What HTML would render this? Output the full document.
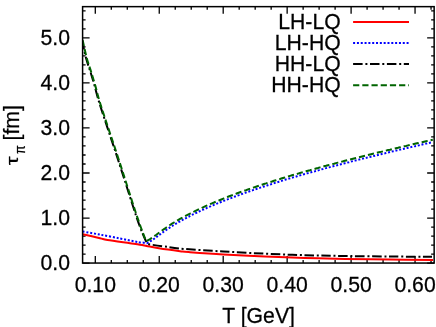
<!DOCTYPE html>
<html><head><meta charset="utf-8"><title>tau_pi vs T</title>
<style>html,body{margin:0;padding:0;background:#fff;}svg{display:block;will-change:transform;}text{font-family:"Liberation Sans",sans-serif;fill:#000;stroke:#000;stroke-width:0.25px;}</style></head><body>
<svg width="436" height="327" viewBox="0 0 436 327">
<rect x="0" y="0" width="436" height="327" fill="#fff"/>
<g fill="none" stroke-linecap="butt">
<path d="M353.1,21.9 H409.0" stroke="#ff0000" stroke-width="2"/>
<path d="M353.1,43.0 H409.0" stroke="#0000ff" stroke-width="2" stroke-dasharray="2 1.82"/>
<path d="M353.1,64.1 H409.0" stroke="#000" stroke-width="2" stroke-dasharray="9.5 2.8 2 2.6"/>
<path d="M353.1,85.3 H409.0" stroke="#006400" stroke-width="2" stroke-dasharray="6.2 3"/>
</g>
<text transform="translate(340.70,28.60) scale(1,1.01)" font-size="21.2" text-anchor="end">LH-LQ</text>
<text transform="translate(340.70,49.70) scale(1,1.01)" font-size="21.2" text-anchor="end">LH-HQ</text>
<text transform="translate(340.70,70.80) scale(1,1.01)" font-size="21.2" text-anchor="end">HH-LQ</text>
<text transform="translate(340.70,91.90) scale(1,1.01)" font-size="21.2" text-anchor="end">HH-HQ</text>
<g stroke="#000" fill="none" stroke-linecap="butt">
<path d="M95.30,263.05 v-7.00 M95.30,6.65 v7.00 M111.29,263.05 v-3.00 M111.29,6.65 v3.00 M127.28,263.05 v-3.00 M127.28,6.65 v3.00 M143.26,263.05 v-3.00 M143.26,6.65 v3.00 M159.25,263.05 v-7.00 M159.25,6.65 v7.00 M175.24,263.05 v-3.00 M175.24,6.65 v3.00 M191.23,263.05 v-3.00 M191.23,6.65 v3.00 M207.21,263.05 v-3.00 M207.21,6.65 v3.00 M223.20,263.05 v-7.00 M223.20,6.65 v7.00 M239.19,263.05 v-3.00 M239.19,6.65 v3.00 M255.18,263.05 v-3.00 M255.18,6.65 v3.00 M271.16,263.05 v-3.00 M271.16,6.65 v3.00 M287.15,263.05 v-7.00 M287.15,6.65 v7.00 M303.14,263.05 v-3.00 M303.14,6.65 v3.00 M319.12,263.05 v-3.00 M319.12,6.65 v3.00 M335.11,263.05 v-3.00 M335.11,6.65 v3.00 M351.10,263.05 v-7.00 M351.10,6.65 v7.00 M367.09,263.05 v-3.00 M367.09,6.65 v3.00 M383.08,263.05 v-3.00 M383.08,6.65 v3.00 M399.06,263.05 v-3.00 M399.06,6.65 v3.00 M415.05,263.05 v-7.00 M415.05,6.65 v7.00 M431.04,263.05 v-3.00 M431.04,6.65 v3.00 M82.60,263.10 h7.00 M434.15,263.10 h-7.00 M82.60,254.09 h3.00 M434.15,254.09 h-3.00 M82.60,245.08 h3.00 M434.15,245.08 h-3.00 M82.60,236.07 h3.00 M434.15,236.07 h-3.00 M82.60,227.06 h3.00 M434.15,227.06 h-3.00 M82.60,218.05 h7.00 M434.15,218.05 h-7.00 M82.60,209.04 h3.00 M434.15,209.04 h-3.00 M82.60,200.03 h3.00 M434.15,200.03 h-3.00 M82.60,191.02 h3.00 M434.15,191.02 h-3.00 M82.60,182.01 h3.00 M434.15,182.01 h-3.00 M82.60,173.00 h7.00 M434.15,173.00 h-7.00 M82.60,163.99 h3.00 M434.15,163.99 h-3.00 M82.60,154.98 h3.00 M434.15,154.98 h-3.00 M82.60,145.97 h3.00 M434.15,145.97 h-3.00 M82.60,136.96 h3.00 M434.15,136.96 h-3.00 M82.60,127.95 h7.00 M434.15,127.95 h-7.00 M82.60,118.94 h3.00 M434.15,118.94 h-3.00 M82.60,109.93 h3.00 M434.15,109.93 h-3.00 M82.60,100.92 h3.00 M434.15,100.92 h-3.00 M82.60,91.91 h3.00 M434.15,91.91 h-3.00 M82.60,82.90 h7.00 M434.15,82.90 h-7.00 M82.60,73.89 h3.00 M434.15,73.89 h-3.00 M82.60,64.88 h3.00 M434.15,64.88 h-3.00 M82.60,55.87 h3.00 M434.15,55.87 h-3.00 M82.60,46.86 h3.00 M434.15,46.86 h-3.00 M82.60,37.85 h7.00 M434.15,37.85 h-7.00 M82.60,28.84 h3.00 M434.15,28.84 h-3.00 M82.60,19.83 h3.00 M434.15,19.83 h-3.00 M82.60,10.82 h3.00 M434.15,10.82 h-3.00" stroke-width="1.3"/>
</g>
<clipPath id="pc"><rect x="82.60" y="6.65" width="351.55" height="256.40"/></clipPath>
<g fill="none" stroke-linejoin="miter" stroke-linecap="butt" stroke-width="2" clip-path="url(#pc)">
<path d="M82.70,234.20 C85.58,234.87 95.87,237.25 100.00,238.20 C104.13,239.15 102.50,239.07 107.50,239.90 C112.50,240.73 124.58,242.40 130.00,243.20 C135.42,244.00 137.25,244.25 140.00,244.70 C142.75,245.15 143.35,245.30 146.50,245.90 C149.65,246.50 153.32,247.42 158.90,248.30 C164.48,249.18 174.82,250.55 180.00,251.20 C185.18,251.85 182.75,251.65 190.00,252.20 C197.25,252.75 211.00,253.78 223.50,254.50 C236.00,255.22 251.42,255.93 265.00,256.50 C278.58,257.07 291.67,257.50 305.00,257.90 C318.33,258.30 330.83,258.63 345.00,258.90 C359.17,259.17 375.33,259.33 390.00,259.50 C404.67,259.67 425.83,259.83 433.00,259.90" stroke="#ff0000"/>
<path d="M82.70,231.50 C85.58,232.02 93.78,233.43 100.00,234.60 C106.22,235.77 114.17,237.35 120.00,238.50 C125.83,239.65 131.67,240.85 135.00,241.50 C138.33,242.15 137.90,242.17 140.00,242.40 C142.10,242.63 146.33,242.80 147.60,242.87 L147.6,242.9 L149.0,242.2 L151.0,240.9 L153.0,239.6 L155.0,238.1 L157.0,236.6 L159.0,235.1 L161.0,233.7 L163.0,232.2 L165.0,230.8 L167.0,229.4 L169.0,228.1 L171.0,226.8 L173.0,225.5 L175.0,224.3 L177.0,223.1 L179.0,221.9 L181.0,220.8 L183.0,219.7 L185.0,218.6 L187.0,217.5 L189.0,216.5 L191.0,215.4 L193.0,214.4 L195.0,213.5 L197.0,212.5 L199.0,211.5 L201.0,210.6 L203.0,209.7 L205.0,208.8 L207.0,207.9 L209.0,207.0 L211.0,206.2 L213.0,205.3 L215.0,204.5 L217.0,203.6 L219.0,202.8 L221.0,202.0 L223.0,201.2 L225.0,200.4 L227.0,199.6 L229.0,198.8 L231.0,198.1 L233.0,197.3 L235.0,196.5 L237.0,195.8 L239.0,195.1 L241.0,194.3 L243.0,193.6 L245.0,192.9 L247.0,192.2 L249.0,191.5 L251.0,190.8 L253.0,190.1 L255.0,189.4 L257.0,188.8 L259.0,188.1 L261.0,187.4 L263.0,186.8 L265.0,186.1 L267.0,185.5 L269.0,184.8 L271.0,184.2 L273.0,183.5 L275.0,182.9 L277.0,182.3 L279.0,181.7 L281.0,181.1 L283.0,180.4 L285.0,179.8 L287.0,179.2 L289.0,178.6 L291.0,178.0 L293.0,177.4 L295.0,176.9 L297.0,176.3 L299.0,175.7 L301.0,175.1 L303.0,174.5 L305.0,174.0 L307.0,173.4 L309.0,172.8 L311.0,172.3 L313.0,171.7 L315.0,171.2 L317.0,170.6 L319.0,170.1 L321.0,169.5 L323.0,169.0 L325.0,168.4 L327.0,167.9 L329.0,167.4 L331.0,166.8 L333.0,166.3 L335.0,165.8 L337.0,165.3 L339.0,164.7 L341.0,164.2 L343.0,163.7 L345.0,163.2 L347.0,162.7 L349.0,162.2 L351.0,161.6 L353.0,161.1 L355.0,160.6 L357.0,160.1 L359.0,159.6 L361.0,159.1 L363.0,158.6 L365.0,158.1 L367.0,157.6 L369.0,157.1 L371.0,156.7 L373.0,156.2 L375.0,155.7 L377.0,155.2 L379.0,154.7 L381.0,154.2 L383.0,153.7 L385.0,153.3 L387.0,152.8 L389.0,152.3 L391.0,151.8 L393.0,151.3 L395.0,150.9 L397.0,150.4 L399.0,149.9 L401.0,149.4 L403.0,149.0 L405.0,148.5 L407.0,148.0 L409.0,147.6 L411.0,147.1 L413.0,146.6 L415.0,146.2 L417.0,145.7 L419.0,145.3 L421.0,144.8 L423.0,144.3 L425.0,143.9 L427.0,143.4 L429.0,143.0 L431.5,142.4" stroke="#0000ff" stroke-dasharray="2 1.82"/>
<path d="M81.90,40.00 C82.63,43.17 84.92,53.82 86.30,59.00 C87.68,64.18 88.83,66.70 90.20,71.10 C91.57,75.50 93.03,80.28 94.50,85.40 C95.97,90.52 96.75,94.47 99.00,101.80 C101.25,109.13 105.35,121.37 108.00,129.40 C110.65,137.43 112.13,141.57 114.90,150.00 C117.67,158.43 121.38,170.00 124.60,180.00 C127.82,190.00 131.60,202.08 134.20,210.00 C136.80,217.92 138.28,222.38 140.20,227.50 C142.12,232.62 144.43,237.97 145.70,240.70 C146.97,243.43 147.45,243.37 147.80,243.90 L147.80,243.90 C148.33,244.02 148.13,244.15 151.00,244.60 C153.87,245.05 159.33,245.87 165.00,246.60 C170.67,247.33 175.25,248.18 185.00,249.00 C194.75,249.82 210.17,250.72 223.50,251.50 C236.83,252.28 251.42,253.08 265.00,253.70 C278.58,254.32 291.67,254.82 305.00,255.20 C318.33,255.58 330.83,255.78 345.00,256.00 C359.17,256.22 375.50,256.37 390.00,256.50 C404.50,256.63 425.00,256.75 432.00,256.80" stroke="#000" stroke-dasharray="9.5 2.8 2 2.6"/>
<path d="M82.60,40.00 C83.33,43.17 85.62,53.82 87.00,59.00 C88.38,64.18 89.53,66.70 90.90,71.10 C92.27,75.50 93.73,80.28 95.20,85.40 C96.67,90.52 97.45,94.47 99.70,101.80 C101.95,109.13 106.05,121.37 108.70,129.40 C111.35,137.43 112.83,141.57 115.60,150.00 C118.37,158.43 122.08,170.00 125.30,180.00 C128.52,190.00 132.30,202.08 134.90,210.00 C137.50,217.92 139.07,222.38 140.90,227.50 C142.73,232.62 145.07,238.50 145.90,240.70 L145.9,241.1 L148.0,240.3 L150.0,239.2 L152.0,237.9 L154.0,236.4 L156.0,235.0 L158.0,233.5 L160.0,232.0 L162.0,230.5 L164.0,229.1 L166.0,227.7 L168.0,226.3 L170.0,225.0 L172.0,223.7 L174.0,222.5 L176.0,221.3 L178.0,220.1 L180.0,218.9 L182.0,217.8 L184.0,216.7 L186.0,215.6 L188.0,214.6 L190.0,213.6 L192.0,212.5 L194.0,211.6 L196.0,210.6 L198.0,209.6 L200.0,208.7 L202.0,207.8 L204.0,206.8 L206.0,205.9 L208.0,205.1 L210.0,204.2 L212.0,203.3 L214.0,202.5 L216.0,201.6 L218.0,200.8 L220.0,200.0 L222.0,199.2 L224.0,198.4 L226.0,197.6 L228.0,196.8 L230.0,196.0 L232.0,195.3 L234.0,194.5 L236.0,193.8 L238.0,193.0 L240.0,192.3 L242.0,191.6 L244.0,190.9 L246.0,190.2 L248.0,189.4 L250.0,188.8 L252.0,188.1 L254.0,187.4 L256.0,186.7 L258.0,186.0 L260.0,185.4 L262.0,184.7 L264.0,184.0 L266.0,183.4 L268.0,182.7 L270.0,182.1 L272.0,181.5 L274.0,180.8 L276.0,180.2 L278.0,179.6 L280.0,179.0 L282.0,178.3 L284.0,177.7 L286.0,177.1 L288.0,176.5 L290.0,175.9 L292.0,175.3 L294.0,174.8 L296.0,174.2 L298.0,173.6 L300.0,173.0 L302.0,172.4 L304.0,171.9 L306.0,171.3 L308.0,170.7 L310.0,170.2 L312.0,169.6 L314.0,169.1 L316.0,168.5 L318.0,168.0 L320.0,167.4 L322.0,166.9 L324.0,166.3 L326.0,165.8 L328.0,165.2 L330.0,164.7 L332.0,164.2 L334.0,163.7 L336.0,163.1 L338.0,162.6 L340.0,162.1 L342.0,161.6 L344.0,161.0 L346.0,160.5 L348.0,160.0 L350.0,159.5 L352.0,159.0 L354.0,158.5 L356.0,158.0 L358.0,157.5 L360.0,157.0 L362.0,156.5 L364.0,156.0 L366.0,155.5 L368.0,155.0 L370.0,154.5 L372.0,154.0 L374.0,153.5 L376.0,153.0 L378.0,152.5 L380.0,152.1 L382.0,151.6 L384.0,151.1 L386.0,150.6 L388.0,150.1 L390.0,149.7 L392.0,149.2 L394.0,148.7 L396.0,148.2 L398.0,147.8 L400.0,147.3 L402.0,146.8 L404.0,146.3 L406.0,145.9 L408.0,145.4 L410.0,144.9 L412.0,144.5 L414.0,144.0 L416.0,143.5 L418.0,143.1 L420.0,142.6 L422.0,142.2 L424.0,141.7 L426.0,141.2 L428.0,140.8 L430.0,140.3 L432.8,139.7" stroke="#006400" stroke-dasharray="6.2 3"/>
</g>
<rect x="82.60" y="6.65" width="351.55" height="256.40" stroke="#000" fill="none" stroke-width="1.5"/>
<text transform="translate(70.00,270.40) scale(1,1.055)" font-size="21.2" text-anchor="end">0.0</text>
<text transform="translate(70.00,225.35) scale(1,1.055)" font-size="21.2" text-anchor="end">1.0</text>
<text transform="translate(70.00,180.30) scale(1,1.055)" font-size="21.2" text-anchor="end">2.0</text>
<text transform="translate(70.00,135.25) scale(1,1.055)" font-size="21.2" text-anchor="end">3.0</text>
<text transform="translate(70.00,90.20) scale(1,1.055)" font-size="21.2" text-anchor="end">4.0</text>
<text transform="translate(70.00,45.15) scale(1,1.055)" font-size="21.2" text-anchor="end">5.0</text>
<text transform="translate(95.30,291.60) scale(1,1.055)" font-size="21.2" text-anchor="middle">0.10</text>
<text transform="translate(159.25,291.60) scale(1,1.055)" font-size="21.2" text-anchor="middle">0.20</text>
<text transform="translate(223.20,291.60) scale(1,1.055)" font-size="21.2" text-anchor="middle">0.30</text>
<text transform="translate(287.15,291.60) scale(1,1.055)" font-size="21.2" text-anchor="middle">0.40</text>
<text transform="translate(351.10,291.60) scale(1,1.055)" font-size="21.2" text-anchor="middle">0.50</text>
<text transform="translate(415.05,291.60) scale(1,1.055)" font-size="21.2" text-anchor="middle">0.60</text>
<text transform="translate(258.60,323.30) scale(1,1.01)" font-size="21.2" text-anchor="middle">T [GeV]</text>
<g transform="translate(19.3,165.5) rotate(-90)">
<text transform="translate(0.3,-1.7) scale(1.4,1)" font-size="16">τ</text>
<text transform="translate(11.6,6.1) scale(0.9,1)" font-size="14">π</text>
<text transform="translate(25.0,0) scale(1,1.01)" font-size="21.2">[fm]</text>
</g>
</svg></body></html>
